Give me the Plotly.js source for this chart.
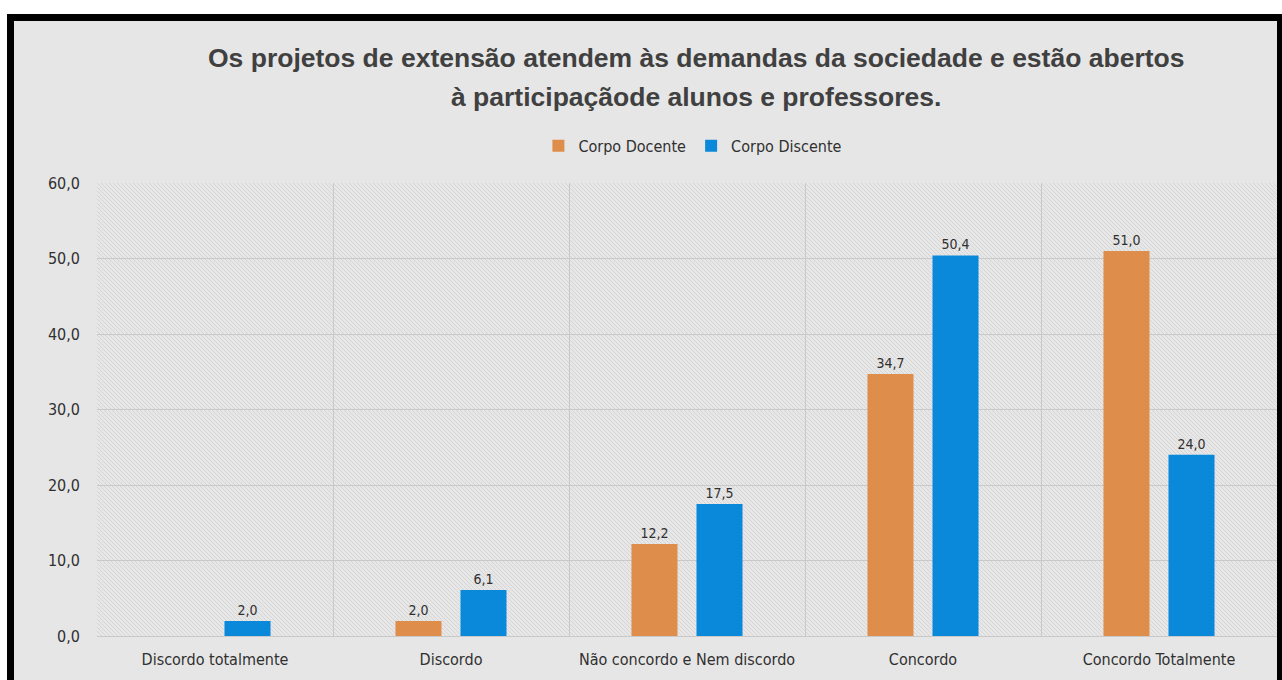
<!DOCTYPE html>
<html>
<head>
<meta charset="utf-8">
<script src="https://cdn.plot.ly/plotly-3.0.1.min.js"></script>
<style>
  body { margin: 0; background: #ffffff; }
  #frame {
    position: absolute; left: 7px; top: 14px;
    border-left: 7px solid #000; border-top: 7px solid #000; border-right: 5px solid #000;
  }
</style>
</head>
<body>
<div id="frame"><div id="chart"></div></div>
<script>
const categories = [
  'Discordo totalmente',
  'Discordo',
  'Não concordo e Nem discordo',
  'Concordo',
  'Concordo Totalmente'
];
const docente = [null, 2.0, 12.2, 34.7, 51.0];
const discente = [2.0, 6.1, 17.5, 50.4, 24.0];
const titleLines = [
  'Os projetos de extensão atendem às demandas da sociedade e estão abertos',
  'à participaçãode alunos e professores.'
];

const narrow = '"Liberation Sans Narrow", "Arial Narrow", "DejaVu Sans Condensed", sans-serif';
const W = 1263, H = 659;
const margin = { l: 83, r: 0, t: 162, b: 44, pad: 0 };

// hatched plot background, sized exactly to the plot area
function hatch( w, h ) {
  const svg = '<svg xmlns="http://www.w3.org/2000/svg" width="' + w + '" height="' + h + '">' +
    '<defs><pattern id="p" patternUnits="userSpaceOnUse" width="4" height="4">' +
    '<rect width="4" height="4" fill="#e7e7e7"/>' +
    '<path d="M-1,-1L5,5M-1,3L1,5M3,-1L5,1" stroke="#d5d5d5" stroke-width="1"/>' +
    '</pattern></defs><rect width="100%" height="100%" fill="url(#p)"/></svg>';
  return 'data:image/svg+xml;base64,' + btoa(svg);
}

const data = [
  {
    type: 'bar', name: 'Corpo Docente', x: categories, y: docente,
    marker: { color: '#df8d4b' },
    texttemplate: '%{y:.1f}', textposition: 'outside', cliponaxis: false,
    textfont: { family: narrow, size: 14, color: '#303030' }
  },
  {
    type: 'bar', name: 'Corpo Discente', x: categories, y: discente,
    marker: { color: '#0a89db' },
    texttemplate: '%{y:.1f}', textposition: 'outside', cliponaxis: false,
    textfont: { family: narrow, size: 14, color: '#303030' }
  }
];

const layout = {
  width: W, height: H,
  margin: margin,
  paper_bgcolor: '#e6e6e6',
  plot_bgcolor: 'rgba(0,0,0,0)',
  separators: ',.',
  barmode: 'group',
  bargap: 0.449,
  bargroupgap: 0.292,
  showlegend: true,
  legend: {
    orientation: 'h', x: 0.505, xanchor: 'center', y: 1.082, yanchor: 'middle',
    font: { family: narrow, size: 16, color: '#303030' },
    itemwidth: 30, bgcolor: 'rgba(0,0,0,0)'
  },
  xaxis: {
    type: 'category',
    tickson: 'boundaries',
    tickangle: 0,
    showgrid: true, gridcolor: '#c9c9c9', gridwidth: 1,
    ticks: '', showline: false, zeroline: false,
    ticklabelstandoff: 12,
    tickfont: { family: narrow, size: 16, color: '#303030' },
    fixedrange: true
  },
  yaxis: {
    range: [0, 60], dtick: 10, tickformat: '.1f',
    showgrid: true, gridcolor: '#c9c9c9', gridwidth: 1,
    zeroline: true, zerolinecolor: '#c9c9c9', zerolinewidth: 1,
    showline: false, ticks: '',
    ticklabelstandoff: 16,
    tickfont: { family: narrow, size: 16, color: '#303030' },
    fixedrange: true
  },
  images: [{
    source: hatch(W - margin.l - margin.r, H - margin.t - margin.b),
    xref: 'paper', yref: 'paper', x: 0, y: 1, sizex: 1, sizey: 1,
    xanchor: 'left', yanchor: 'top', sizing: 'stretch', layer: 'below'
  }],
  annotations: titleLines.map(function( line, i ) {
    return {
      text: '<b>' + line + '</b>', showarrow: false,
      xref: 'paper', yref: 'paper', x: 0.5076, xanchor: 'center',
      y: 1.0 + (162 - 37 - 39 * i) / 453, yanchor: 'middle',
      font: { family: '"Liberation Sans", Arial, sans-serif', size: 26.5, color: '#404040' }
    };
  })
};

Plotly.newPlot(document.getElementById('chart'), data, layout, { displayModeBar: false, staticPlot: true });
</script>
</body>
</html>
